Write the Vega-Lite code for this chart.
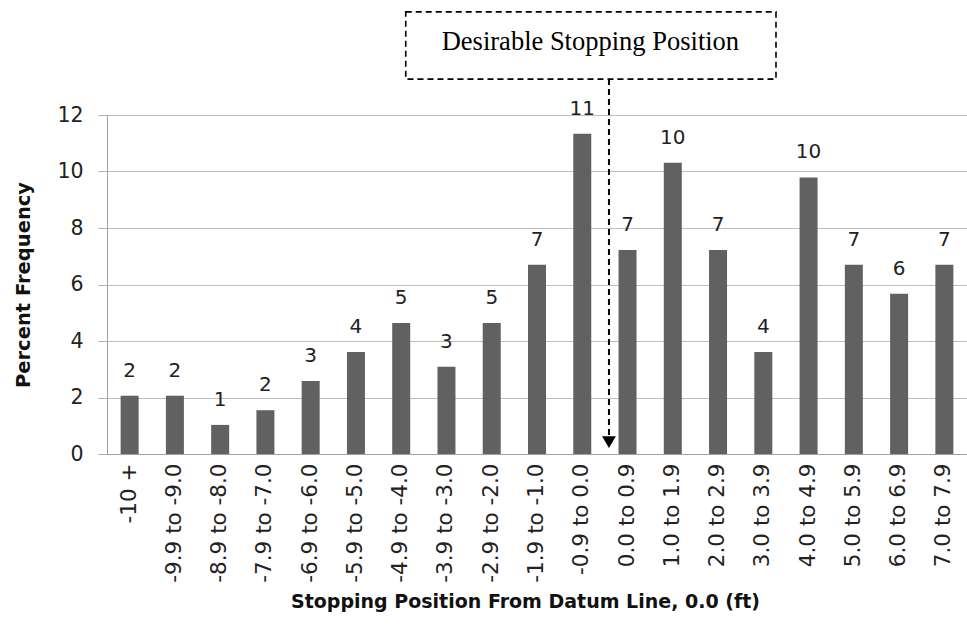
{
  "$schema": "https://vega.github.io/schema/vega-lite/v6.json",
  "width": 860,
  "height": 339,
  "autosize": "none",
  "padding": {"left": 107, "top": 115, "right": 0, "bottom": 177},
  "background": "white",
  "config": {"view": {"stroke": null}, "font": "DejaVu Sans"},
  "layer": [
    {
      "data": {"values": [
        {"cat": "-10 +", "value": 2.06, "label": "2"},
        {"cat": "-9.9 to -9.0", "value": 2.06, "label": "2"},
        {"cat": "-8.9 to -8.0", "value": 1.03, "label": "1"},
        {"cat": "-7.9 to -7.0", "value": 1.55, "label": "2"},
        {"cat": "-6.9 to -6.0", "value": 2.58, "label": "3"},
        {"cat": "-5.9 to -5.0", "value": 3.61, "label": "4"},
        {"cat": "-4.9 to -4.0", "value": 4.64, "label": "5"},
        {"cat": "-3.9 to -3.0", "value": 3.09, "label": "3"},
        {"cat": "-2.9 to -2.0", "value": 4.64, "label": "5"},
        {"cat": "-1.9 to -1.0", "value": 6.70, "label": "7"},
        {"cat": "-0.9 to 0.0", "value": 11.34, "label": "11"},
        {"cat": "0.0 to 0.9", "value": 7.22, "label": "7"},
        {"cat": "1.0 to 1.9", "value": 10.31, "label": "10"},
        {"cat": "2.0 to 2.9", "value": 7.22, "label": "7"},
        {"cat": "3.0 to 3.9", "value": 3.61, "label": "4"},
        {"cat": "4.0 to 4.9", "value": 9.79, "label": "10"},
        {"cat": "5.0 to 5.9", "value": 6.70, "label": "7"},
        {"cat": "6.0 to 6.9", "value": 5.67, "label": "6"},
        {"cat": "7.0 to 7.9", "value": 6.70, "label": "7"}
      ]},
      "encoding": {
        "x": {
          "field": "cat", "type": "nominal", "sort": null,
          "scale": {"paddingInner": 0.6, "paddingOuter": 0.3},
          "axis": {
            "title": "Stopping Position  From Datum Line, 0.0 (ft)",
            "titleFont": "DejaVu Sans", "titleFontSize": 19, "titleFontWeight": "bold", "titleColor": "#111",
            "titlePadding": 10, "titleX": 418,
            "labelAngle": -90, "labelFontSize": 21.5, "labelColor": "#222", "labelPadding": 9,
            "ticks": false, "domainColor": "#a0a0a0", "grid": false
          }
        },
        "y": {
          "field": "value", "type": "quantitative",
          "scale": {"domain": [0, 12]},
          "axis": {
            "title": "Percent Frequency",
            "titleFont": "DejaVu Sans", "titleFontSize": 19.5, "titleFontWeight": "bold", "titleColor": "#111",
            "titlePadding": 23,
            "values": [0, 2, 4, 6, 8, 10, 12],
            "labelFontSize": 20.5, "labelColor": "#222", "labelPadding": 15,
            "tickSize": 9, "tickColor": "#b0b0b0",
            "grid": true, "gridColor": "#bdbdbd", "domainColor": "#a0a0a0"
          }
        }
      },
      "layer": [
        {"mark": {"type": "bar", "color": "#616161", "width": 18}},
        {
          "mark": {"type": "text", "baseline": "bottom", "dy": -15, "fontSize": 20, "color": "#222"},
          "encoding": {"text": {"field": "label"}}
        }
      ]
    },
    {
      "data": {"values": [
        {"kind": "box", "x": 6.6, "x2": 14.78, "value": 13.27, "value2": 15.65, "txt": "Desirable Stopping Position", "tx": 10.68, "ty": 14.6, "ax": 11.09, "ay": 13.27, "ay2": 0.67, "hy": 0.42}
      ]},
      "layer": [
        {
          "mark": {"type": "rect", "fill": null, "stroke": "black", "strokeDash": [6, 4], "strokeWidth": 1.6},
          "encoding": {
            "x": {"field": "x", "type": "quantitative", "scale": {"domain": [0, 19]}, "axis": null},
            "x2": {"field": "x2"},
            "y": {"field": "value", "type": "quantitative", "scale": {"domain": [0, 12]}},
            "y2": {"field": "value2"}
          }
        },
        {
          "mark": {"type": "text", "font": "Liberation Serif", "fontSize": 26.5, "color": "black", "baseline": "middle"},
          "encoding": {
            "x": {"field": "tx", "type": "quantitative", "scale": {"domain": [0, 19]}, "axis": null},
            "y": {"field": "ty", "type": "quantitative", "scale": {"domain": [0, 12]}},
            "text": {"field": "txt"}
          }
        },
        {
          "mark": {"type": "rule", "color": "black", "strokeDash": [6, 4], "strokeWidth": 2},
          "encoding": {
            "x": {"field": "ax", "type": "quantitative", "scale": {"domain": [0, 19]}, "axis": null},
            "y": {"field": "ay", "type": "quantitative", "scale": {"domain": [0, 12]}},
            "y2": {"field": "ay2"}
          }
        },
        {
          "mark": {"type": "point", "shape": "triangle-down", "filled": true, "color": "black", "size": 190, "opacity": 1},
          "encoding": {
            "x": {"field": "ax", "type": "quantitative", "scale": {"domain": [0, 19]}, "axis": null},
            "y": {"field": "hy", "type": "quantitative", "scale": {"domain": [0, 12]}}
          }
        }
      ]
    }
  ],
  "resolve": {"scale": {"x": "independent"}}
}
